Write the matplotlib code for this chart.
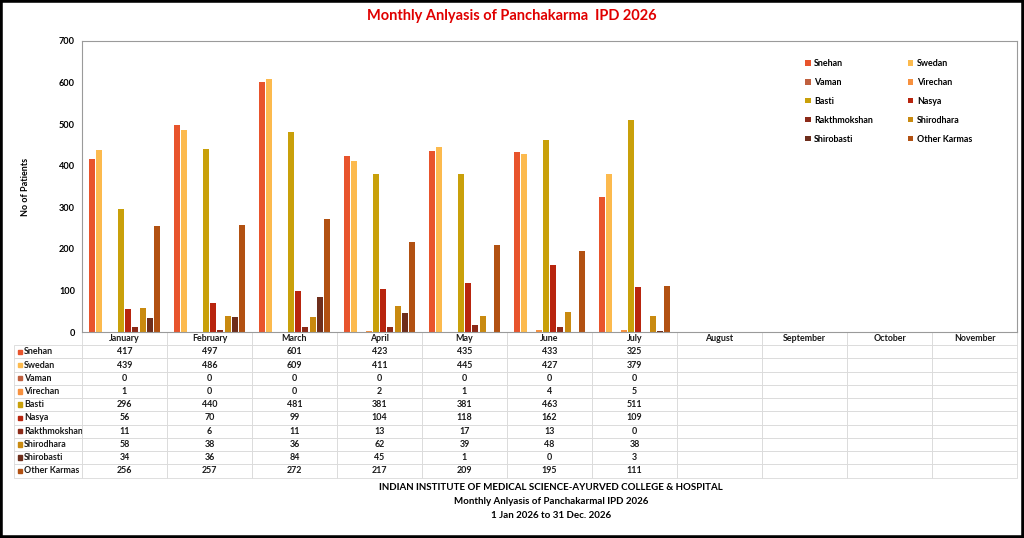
import numpy as np
import matplotlib
matplotlib.use("Agg")
import matplotlib.pyplot as plt
from matplotlib.patches import Rectangle

plt.rcParams['font.family'] = ['Lato', 'DejaVu Sans']
plt.rcParams['font.weight'] = 'bold'

months = ["January", "February", "March", "April", "May", "June", "July",
          "August", "September", "October", "November"]

therapies = ["Snehan", "Swedan", "Vaman", "Virechan", "Basti", "Nasya",
             "Rakthmokshan", "Shirodhara", "Shirobasti", "Other Karmas"]

# values per therapy, Jan..Jul (Aug-Nov not filled yet)
snehan = [417, 497, 601, 423, 435, 433, 325]
swedan = [439, 486, 609, 411, 445, 427, 379]
vaman = [0, 0, 0, 0, 0, 0, 0]
virechan = [1, 0, 0, 2, 1, 4, 5]
basti = [296, 440, 481, 381, 381, 463, 511]
nasya = [56, 70, 99, 104, 118, 162, 109]
rakthmokshan = [11, 6, 11, 13, 17, 13, 0]
shirodhara = [58, 38, 36, 62, 39, 48, 38]
shirobasti = [34, 36, 84, 45, 1, 0, 3]
other_karmas = [256, 257, 272, 217, 209, 195, 111]

series = [snehan, swedan, vaman, virechan, basti, nasya,
          rakthmokshan, shirodhara, shirobasti, other_karmas]

colors = ["#E8542C", "#FCBA4E", "#C0603F", "#F7913F", "#C9A00A",
          "#B8250E", "#8C2A18", "#C98A10", "#6E2E1C", "#B25112"]

fig = plt.figure(figsize=(10.24, 5.38), dpi=100)
ax = fig.add_axes([82 / 1024, 1 - 332 / 538, 935 / 1024, 291 / 538])

step = 0.086
bw = 0.07
handles = []
for i, (vals, c) in enumerate(zip(series, colors)):
    x = np.arange(len(vals)) + (i - 4.5) * step
    b = ax.bar(x, vals, width=bw, color=c, label=therapies[i])
    handles.append(b)

ax.set_xlim(-0.5, len(months) - 0.5)
ax.set_ylim(0, 700)
ax.set_yticks(range(0, 701, 100))
ax.set_xticks([])
ax.tick_params(axis='y', length=0, pad=5, labelsize=6.6)
for lab in ax.get_yticklabels():
    lab.set_fontweight('bold')
for s in ax.spines.values():
    s.set_color("#9A9A9A")
    s.set_linewidth(0.8)
ax.set_ylabel("No of Patients", fontsize=6.5, fontweight='bold', labelpad=21)

# legend filled row-wise like the original
order = [0, 2, 4, 6, 8, 1, 3, 5, 7, 9]
ax.legend([handles[k] for k in order], [therapies[k] for k in order],
          ncol=2, loc='upper left', bbox_to_anchor=(0.765, 0.966),
          frameon=False, handlelength=0.6, handleheight=0.6,
          handletextpad=0.4, labelspacing=1.12, columnspacing=3.95,
          prop={'weight': 'bold', 'size': 6.4})

# data table under the chart
cell_text = []
for name, vals in zip(therapies, series):
    row = [name] + [str(v) for v in vals] + [""] * (len(months) - len(vals))
    cell_text.append(row)

x0 = (14 - 82) / 935
widths = [68] + [85] * len(months)
tbl = ax.table(cellText=cell_text, colLabels=[""] + months,
               cellLoc='center', colWidths=[w / sum(widths) for w in widths],
               bbox=[x0, -0.5, 1 - x0, 0.5])
tbl.auto_set_font_size(False)
tbl.set_fontsize(6.4)
for (r, c), cell in tbl.get_celld().items():
    cell.set_edgecolor("#D9D9D9")
    cell.set_linewidth(0.6)
    cell.get_text().set_fontweight('bold')
    cell.get_text().set_color("#1A1A1A")
    if r == 0 and c == 0:
        cell.visible_edges = ''
    if c == 0 and r > 0:
        cell._loc = 'left'
        cell.get_text().set_horizontalalignment('left')
        cell.PAD = 10 / 68

nrows = len(therapies) + 1
for i, c in enumerate(colors):
    yc = -(i + 1.5) * 0.5 / nrows
    ax.add_patch(Rectangle((x0 + 3.5 / 935, yc - 2.2 / 291), 4.5 / 935, 4.5 / 291,
                           transform=ax.transAxes, color=c, clip_on=False))

fig.text(0.5, 1 - 16 / 538, "Monthly Anlyasis of Panchakarma  IPD 2026",
         ha='center', va='center', color="#E00000", fontsize=10.5,
         fontweight='bold')

footer = ["INDIAN INSTITUTE OF MEDICAL SCIENCE-AYURVED COLLEGE & HOSPITAL",
          "Monthly Anlyasis of Panchakarmal IPD 2026",
          "1 Jan 2026 to 31 Dec. 2026"]
for k, line in enumerate(footer):
    fig.text(551 / 1024, 1 - (487 + 14 * k) / 538, line, ha='center',
             va='center', fontsize=7.0, fontweight='bold', color='black')

fig.patches.append(Rectangle((0, 0), 1, 1, transform=fig.transFigure,
                             fill=False, lw=4, ec='black'))

fig.savefig("out.png", dpi=100)
